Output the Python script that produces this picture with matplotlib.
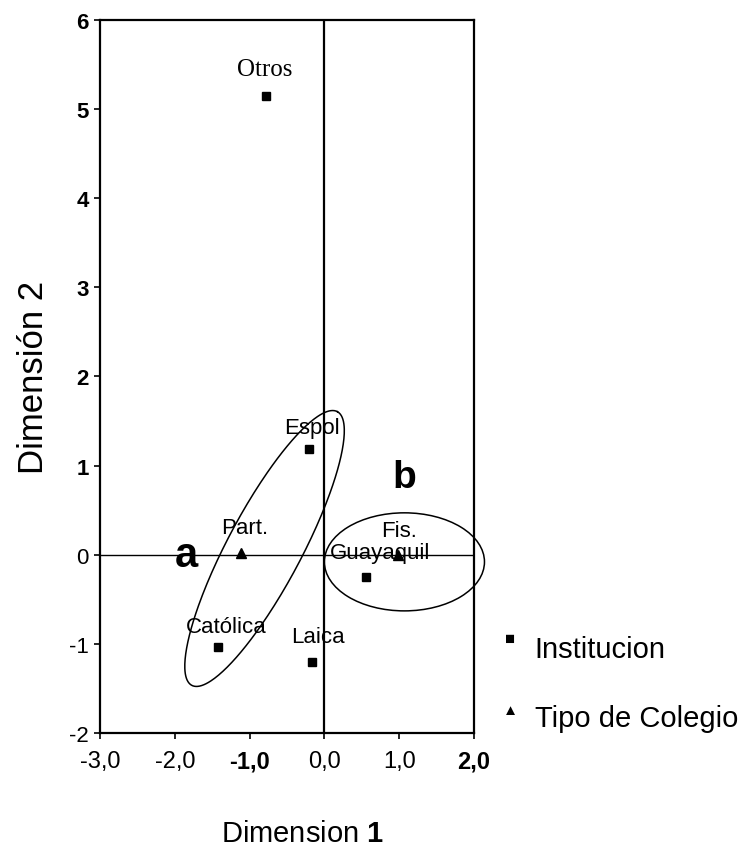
import numpy as np
import matplotlib
matplotlib.use("Agg")
from matplotlib import pyplot as plt
from matplotlib.patches import Ellipse

plt.rcParams['font.family'] = ['Liberation Sans', 'DejaVu Sans']
plt.rcParams['mathtext.fontset'] = 'custom'
plt.rcParams['mathtext.rm'] = 'Liberation Sans'
plt.rcParams['mathtext.bf'] = 'Liberation Sans:bold'

# Institucion points (squares)
inst_names = ["Otros", "Espol", "Católica", "Laica", "Guayaquil"]
inst_x = [-0.78, -0.21, -1.42, -0.16, 0.56]
inst_y = [5.15, 1.19, -1.03, -1.20, -0.25]

# Tipo de Colegio points (triangles)
tipo_names = ["Part.", "Fis."]
tipo_x = [-1.11, 0.98]
tipo_y = [0.02, 0.0]

# where the labels sit
label_x = {"Otros": -0.80, "Espol": -0.16, "Católica": -1.31, "Laica": -0.09,
           "Guayaquil": 0.74, "Part.": -1.07, "Fis.": 1.0}
label_y = {"Otros": 5.45, "Espol": 1.43, "Católica": -0.80, "Laica": -0.92,
           "Guayaquil": 0.03, "Part.": 0.31, "Fis.": 0.27}

xticks = [-3, -2, -1, 0, 1, 2]
xlabels = ["-3,0", "-2,0", "-1,0", "0,0", "1,0", "2,0"]
yticks = [-2, -1, 0, 1, 2, 3, 4, 5, 6]

fig = plt.figure(figsize=(7.5, 8.53), dpi=100)
ax = fig.add_axes([0.1333, 0.1395, 0.4987, 0.836])
ax.set_xlim(-3, 2)
ax.set_ylim(-2, 6)

for s in ax.spines.values():
    s.set_linewidth(1.6)

ax.axhline(0, color='black', lw=1.0)
ax.axvline(0, color='black', lw=1.6)

ax.plot(inst_x, inst_y, 's', color='black', ms=6, clip_on=False)
ax.plot(tipo_x, tipo_y, '^', color='black', ms=6.5, clip_on=False)

for n in inst_names + tipo_names:
    if n == "Otros":
        ax.text(label_x[n], label_y[n], n, ha='center', va='center',
                fontsize=18, family='Liberation Serif')
    else:
        ax.text(label_x[n], label_y[n], n, ha='center', va='center', fontsize=16)

# group ellipses, a is tilted in screen space
fig.canvas.draw()
bb = ax.get_window_extent()
sx = bb.width / 5.0
sy = bb.height / 8.0
t = np.linspace(0, 2 * np.pi, 300)
th = np.deg2rad(62)
ea, eb = 155, 37
cx, cy = -0.80, 0.07
ex = cx + (ea * np.cos(t) * np.cos(th) - eb * np.sin(t) * np.sin(th)) / sx
ey = cy + (ea * np.cos(t) * np.sin(th) + eb * np.sin(t) * np.cos(th)) / sy
ax.plot(ex, ey, color='black', lw=1.1)

ax.add_patch(Ellipse((1.07, -0.08), 2.14, 1.1, fill=False, ec='black', lw=1.1,
                     clip_on=False))

ax.text(-1.84, 0.0, "a", fontsize=30, fontweight='bold', ha='center', va='center')
ax.text(1.07, 0.87, "b", fontsize=28, fontweight='bold', ha='center', va='center')

ax.set_xticks(xticks)
ax.set_xticklabels(xlabels, fontsize=17)
ax.set_yticks(yticks)
ax.set_yticklabels([str(v) for v in yticks], fontsize=16)
for lab in ax.get_xticklabels():
    if lab.get_text() in ("-1,0", "2,0"):
        lab.set_fontweight('bold')
for lab in ax.get_yticklabels():
    if lab.get_text() in ("1", "2", "3", "4", "5", "6"):
        lab.set_fontweight('bold')
ax.tick_params(axis='both', direction='out', length=4, width=1.2)
ax.tick_params(axis='x', pad=8)
ax.tick_params(axis='y', pad=4)

# x title sits low near the bottom edge
fig.text(0.404, 0.022, r"Dimension $\mathbf{1}$", fontsize=21, ha='center', va='center')
ax.set_ylabel("Dimensión 2", fontsize=25, labelpad=14)

# legend drawn by hand on the right
fig.text(0.68, 0.25, "\u25A0", fontsize=12, ha='center', va='center')
fig.text(0.713, 0.238, "Institucion", fontsize=21, ha='left', va='center')
fig.text(0.681, 0.166, "\u25B2", fontsize=11, ha='center', va='center')
fig.text(0.713, 0.157, "Tipo de Colegio", fontsize=21, ha='left', va='center')

fig.savefig("out.png", dpi=100)
